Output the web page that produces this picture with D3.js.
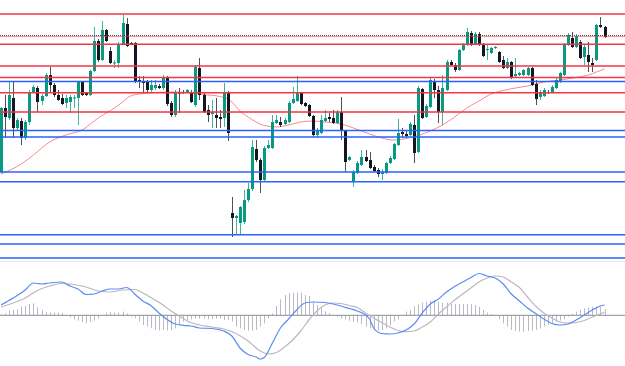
<!DOCTYPE html>
<html><head><meta charset="utf-8">
<script src="https://cdn.jsdelivr.net/npm/d3@7"></script>
<style>html,body{margin:0;padding:0;background:#fff;overflow:hidden}</style>
</head><body><svg id="c" width="625" height="366"></svg>
<script>
// ---- candle data (price units) ----
const open = [128,192,182,202,172,179,162,178,208,212,
199,204,225,215,205,202,197,198,202,202,
218,207,205,229,259,240,270,249,237,237,
256,276,257,257,220,218,218,210,212,214,
212,222,197,185,208,208,208,208,195,232,
205,190,186,185,183,182,207,87,82,77,
78,100,111,151,140,120,152,152,177,178,
176,178,197,199,207,197,195,184,165,167,
179,183,182,177,188,169,140,118,127,135,
143,140,133,130,126,127,137,141,155,168,
166,165,175,148,211,183,193,218,210,188,
210,238,235,230,250,255,267,256,266,256,
250,247,252,248,240,232,238,224,225,225,
225,232,216,203,204,208,208,212,218,225,
255,262,253,258,243,245,237,240,275,273];
const high = [193,205,218,218,182,182,180,210,215,214,
206,227,233,217,210,206,205,205,205,219,
219,208,230,273,261,279,271,253,240,258,
285,282,258,258,224,224,220,220,220,216,
225,224,199,210,212,210,211,210,235,242,
207,195,200,202,190,217,209,103,85,94,
110,117,160,160,142,154,160,185,185,183,
182,199,213,224,208,198,196,185,172,185,
190,187,190,190,203,170,144,130,139,150,
150,148,135,132,131,138,144,157,181,172,
170,178,185,214,212,196,222,221,214,225,
240,240,237,251,257,272,269,268,268,257,
256,253,254,249,244,242,239,242,228,231,
233,233,220,210,212,210,215,222,228,257,
267,268,266,260,255,258,242,276,283,274];
const low = [127,162,180,162,170,155,160,175,207,188,
195,203,208,203,199,195,192,187,192,175,
204,204,204,228,238,239,258,236,232,232,
255,253,255,217,212,208,207,208,210,211,
210,194,183,183,187,206,207,197,193,200,
187,178,172,172,172,173,159,63,65,65,
76,98,109,138,107,119,151,151,176,173,
175,177,196,198,195,193,183,163,162,166,
178,178,176,176,160,128,139,113,126,134,
138,131,128,123,120,126,136,140,154,162,
162,164,137,147,181,182,192,202,177,175,
209,234,228,229,249,254,254,255,254,243,
240,246,251,237,231,231,221,223,224,224,
224,214,195,200,203,206,207,211,217,224,
254,252,252,241,235,228,228,239,272,262];
const close = [192,183,205,172,180,162,178,208,213,198,
204,225,215,205,200,196,202,203,202.5,218,
205,205,229,259,240,270,259,237,237.5,256,
277,254,256,218,218,217,210,215,215,212,
222,196,185,208,206.5,207,210,198,233,205,
188,185,188,182,181,207,167,82,84,93,
100,111,153,140,120,152,155,178,180,175,
180,197,201,207,196,194,184,165,170,180,
182,181,177,188,169,138,143,128,137,143,
139,132,129,126,128,137,142,156,167,166,
164,176,147,212,182,194,220,210,188,212,
238,235,230,250,255,268,255,266,255,244,
251,252,253,238,232,238,222,226,227,230,
232,215,201,208,210,207,213,220,227,255,
265,253,264,242,253,238,235,275,273,263];

// ---- moving average (sampled at candle indices) ----
const maIndex = [0,5,8,12,16,20,24,26,28,30,32,35,38,42,46,50,54,56,57,59,61,63,65,68,71,74,77,80,84,87,91,94,97,100,103,106,109,112,115,118,121,124,127,130,134,138,142,145,147,149];
const maValue = [126,136,145,158,165,170,182,187,192,198,204,206.5,207.5,208,207.5,205.5,203.5,201,198,189,183,178,174.5,173,175,178,179,178,176,172,166,162,160,161.5,164.5,169,175,183,192,199,206,209.5,212,214,218,220,222.5,225,228,231];

// ---- horizontal levels ----
const redLevels = [286, 255.7, 234, 222.5, 207.3, 188];
const blueLevels = [218.5, 169.5, 163, 128, 118.3, 65.3, 56, 42];

// ---- MACD panel ----
const macdIndex = [0,3,6,8,10,12,15,17,19,21,23,25,27,29,31,33,35,37,39,41,43,45,47,49,52,55,57,59,61,63,64,65,67,69,71,73,75,77,80,83,86,88,90,91,92,94,96,98,100,102,104,106,108,110,112,114,116,118,120,122,124,126,128,130,132,134,136,138,140,142,144,146,148,149];
const macdValue = [10.3,17.3,25.3,32.3,31.3,32.3,33.3,29.3,26.3,20.8,21.3,24.3,26.3,26.3,27.8,21.3,14.3,9.8,2.3,-4.2,-8.7,-10,-10.7,-12.7,-13.2,-15.7,-20.7,-32.7,-39.2,-41.7,-43.7,-42.2,-27.7,-12.7,-3.7,5.3,12.3,13.3,12.8,10.3,6.8,4.3,0.3,-3.7,-12.7,-18.2,-18.7,-17.7,-14.7,-8.7,2.3,11.3,16.3,23.3,28.8,33.3,37.8,41.8,39.3,37.3,31.3,21.3,14.3,7.3,1.8,-3.7,-8.2,-9.7,-8.7,-4.7,0.3,5.3,9.3,10.3];
const signalIndex = [0,3,6,9,12,15,18,21,24,27,30,33,35,37,40,42,44,46,49,52,55,58,61,64,66,68,70,72,74,76,78,80,82,84,86,88,90,92,94,96,98,100,102,104,106,108,110,112,114,116,118,120,122,124,126,128,130,132,134,136,138,140,142,144,146,148,149];
const signalValue = [8.3,12.3,17.3,24.8,29.3,31.8,30.8,28.3,24.3,23.3,25.3,25.8,22.3,17.8,10.3,4.3,-0.7,-5.7,-9.7,-11.7,-13.7,-18.2,-25.7,-35.7,-38.7,-37.2,-31.7,-24.7,-15.7,-4.7,4.3,10.3,12.3,11.8,9.8,7.8,2.3,-2.7,-7.2,-11.7,-15.2,-16.4,-15.7,-11.7,-6.7,1.3,8.3,15.3,21.3,27.3,33.3,37.3,39.3,38.3,33.3,27.8,18.3,9.3,2.3,-2.7,-6.7,-7.7,-7.2,-5.2,-1.7,1.3,3.3];
const histValue = [1,2,4.7,5.3,6,8.7,9.3,11.3,12,8,
5.3,3.3,3,2.7,2.7,2,-0.7,-2,-4,-5.3,
-6.7,-8,-6.7,-5.3,-3.3,-0.7,2.7,3.3,2.7,2.7,
3.7,2,-1.3,-3,-6.3,-9.7,-11.3,-13,-14.7,-15.3,
-14.7,-15.3,-14.7,-13,-9.7,-6.3,-4.7,-4,-3.3,-3.3,
-3.3,-4,-4,-3.3,-3.3,-4.7,-4.7,-6.3,-11.3,-13,
-14.7,-15.3,-15.3,-14.7,-11.3,-8,-3,2,9.3,16,
20.3,22,22.7,23,22.7,20.3,19.3,13,10,7.5,
4,2,-0.7,-1.3,-3,-4,-5.3,-6.3,-7.3,-8.7,
-11.3,-13,-14.7,-15.3,-14.7,-13,-9.7,-6.3,-4,-0.7,
3.7,5.3,8.7,11,12.7,13.7,14.7,14.7,13.7,12.7,
12.7,11.3,11.3,11.3,11.3,11.3,11,10.3,8.7,5.3,
2.7,1.3,-0.7,-4,-8,-11.3,-14.7,-15.7,-16.3,-16.3,
-15.7,-15.3,-14.7,-13,-11.3,-9.7,-8,-6.3,-5.3,-4,
-1.3,1.3,3.7,5.3,7,8,8.7,8.7,8,6];

// ---- drawing ----
const W = 625, H = 366;
const svg = d3.select('#c');
const n = open.length;
const x = d3.scaleLinear().domain([0, n - 1]).range([1, 604.5]);
const y = d3.scaleLinear().domain([0, 300]).range([300, 0]);
const ym = d3.scaleLinear().domain([-45, 45]).range([360.3, 270.3]);
const UP = '#089981', DOWN = '#131722';

// MACD panel separator
svg.append('line').attr('x1', 0).attr('x2', W).attr('y1', 261.5).attr('y2', 261.5)
  .attr('stroke', '#e6e8ee').attr('stroke-width', 1);

// moving average
const maLine = d3.line().x((d, i) => x(maIndex[i])).y(d => y(d)).curve(d3.curveMonotoneX);
svg.append('path').datum(maValue).attr('d', maLine)
  .attr('fill', 'none').attr('stroke', '#f77c80').attr('stroke-width', 1).attr('opacity', 0.9);

// candles
const cg = svg.append('g');
const idx = d3.range(n);
cg.selectAll('line.wick').data(idx).join('line').attr('class', 'wick')
  .attr('x1', i => Math.round(x(i)) + 0.5).attr('x2', i => Math.round(x(i)) + 0.5)
  .attr('y1', i => y(high[i])).attr('y2', i => y(low[i]))
  .attr('stroke', i => close[i] >= open[i] ? UP : DOWN).attr('stroke-width', 1).attr('opacity', 0.75);
cg.selectAll('rect.body').data(idx).join('rect').attr('class', 'body')
  .attr('x', i => Math.round(x(i)) - 1).attr('width', 3)
  .attr('y', i => y(Math.max(open[i], close[i])))
  .attr('height', i => Math.max(1, Math.abs(y(open[i]) - y(close[i]))))
  .attr('fill', i => close[i] >= open[i] ? UP : DOWN);

// horizontal levels
svg.append('g').selectAll('line').data(redLevels).join('line')
  .attr('x1', 0).attr('x2', W).attr('y1', d => y(d)).attr('y2', d => y(d))
  .attr('stroke', '#f23645').attr('stroke-width', 1.5);
svg.append('g').selectAll('line').data(blueLevels).join('line')
  .attr('x1', 0).attr('x2', W).attr('y1', d => y(d)).attr('y2', d => y(d))
  .attr('stroke', '#2962ff').attr('stroke-width', 1.5);

// last price dotted line
const last = close[n - 1];
svg.append('line').attr('x1', 0).attr('x2', W).attr('y1', y(last) - 0.5).attr('y2', y(last) - 0.5)
  .attr('stroke', '#f23645').attr('stroke-width', 1).attr('opacity', 0.5);
svg.append('line').attr('x1', 0).attr('x2', W).attr('y1', y(last) - 1.5).attr('y2', y(last) - 1.5)
  .attr('stroke', '#6b3a3a').attr('stroke-width', 1).attr('stroke-dasharray', '1,1');

// MACD histogram
svg.append('g').selectAll('rect').data(idx).join('rect')
  .attr('x', i => Math.round(x(i)))
  .attr('width', 1)
  .attr('y', i => Math.min(ym(0), ym(histValue[i])))
  .attr('height', i => Math.abs(ym(histValue[i]) - ym(0)))
  .attr('fill', '#b8bbc4');
// zero line
svg.append('line').attr('x1', 0).attr('x2', W).attr('y1', ym(0)).attr('y2', ym(0))
  .attr('stroke', '#8a8d96').attr('stroke-width', 1);

// signal and MACD lines
const sigLine = d3.line().x((d, i) => x(signalIndex[i])).y(d => ym(d)).curve(d3.curveMonotoneX);
svg.append('path').datum(signalValue).attr('d', sigLine)
  .attr('fill', 'none').attr('stroke', '#b9b9bd').attr('stroke-width', 1.2);
const macdLine = d3.line().x((d, i) => x(macdIndex[i])).y(d => ym(d)).curve(d3.curveMonotoneX);
svg.append('path').datum(macdValue).attr('d', macdLine)
  .attr('fill', 'none').attr('stroke', '#5b8cf5').attr('stroke-width', 1.2);
</script>
</body></html>
